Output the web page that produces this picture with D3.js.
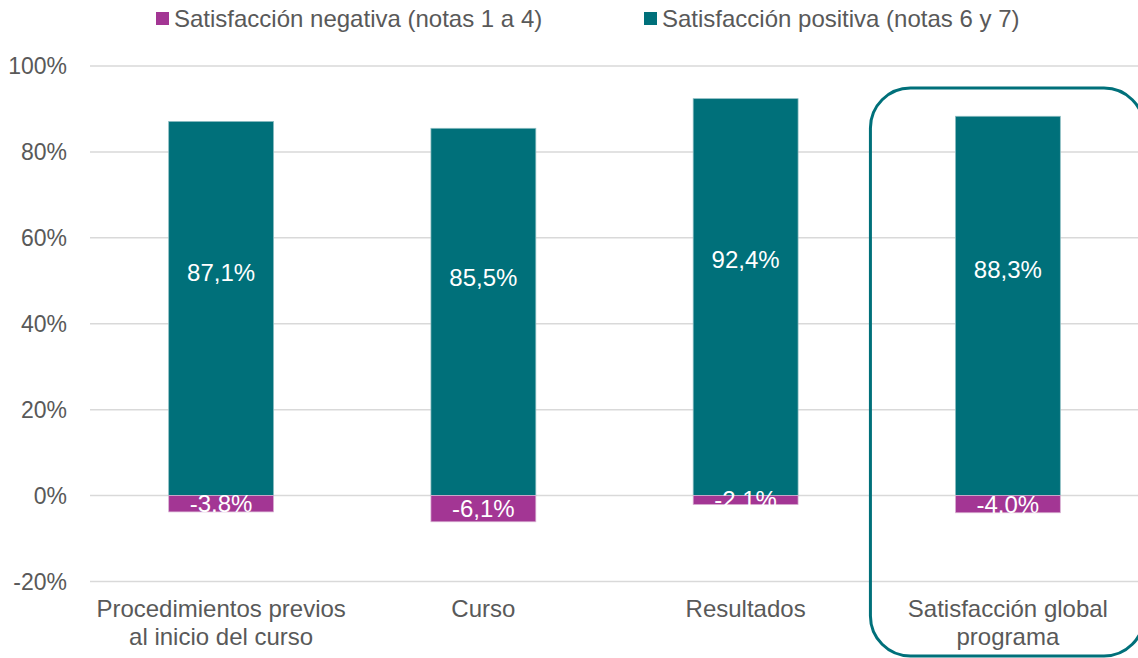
<!DOCTYPE html>
<html>
<head>
<meta charset="utf-8">
<script src="https://cdn.jsdelivr.net/npm/d3@7"></script>
<style>
  body { margin: 0; background: #fff; }
  text { font-family: "Liberation Sans", Arial, sans-serif; }
</style>
</head>
<body>
<div class="chart"></div>
<script>
// Chart data
var categories = [
  ["Procedimientos previos", "al inicio del curso"],
  ["Curso"],
  ["Resultados"],
  ["Satisfacción global", "programa"]
];
var positiveValues = [87.1, 85.5, 92.4, 88.3];
var negativeValues = [-3.8, -6.1, -2.1, -4.0];
var positiveLabels = ["87,1%", "85,5%", "92,4%", "88,3%"];
var negativeLabels = ["-3.8%", "-6,1%", "-2.1%", "-4.0%"];
var yTicks = [-20, 0, 20, 40, 60, 80, 100];
var seriesNames = ["Satisfacción negativa (notas 1 a 4)", "Satisfacción positiva (notas 6 y 7)"];
var highlightIndex = 3;

var svgWidth = 1138;
var svgHeight = 658;
var teal = "#00707A";
var magenta = "#A33694";
var grey = "#595959";
var fontSize = 24;

var svg = d3.select(".chart")
  .append("svg")
  .attr("width", svgWidth)
  .attr("height", svgHeight);

// Scales
var x = d3.scaleBand()
  .domain(d3.range(categories.length))
  .range([90, 1139])
  .paddingInner(0.6)
  .paddingOuter(0.3);

var y = d3.scaleLinear()
  .domain([-20, 100])
  .range([581.5, 66]);

// Gridlines
svg.append("g")
  .selectAll("line")
  .data(yTicks)
  .enter()
  .append("line")
  .attr("x1", 90)
  .attr("x2", svgWidth)
  .attr("y1", function(d) { return y(d); })
  .attr("y2", function(d) { return y(d); })
  .attr("stroke", "#D9D9D9")
  .attr("stroke-width", 1.5);

// Y axis labels
svg.append("g")
  .selectAll("text")
  .data(yTicks)
  .enter()
  .append("text")
  .attr("x", 67)
  .attr("y", function(d) { return y(d); })
  .attr("dy", "0.35em")
  .attr("text-anchor", "end")
  .attr("fill", grey)
  .style("font-size", "23px")
  .text(function(d) { return d + "%"; });

// Positive bars
svg.append("g")
  .selectAll("rect")
  .data(positiveValues)
  .enter()
  .append("rect")
  .attr("x", function(d, i) { return x(i); })
  .attr("width", x.bandwidth())
  .attr("y", function(d) { return y(d); })
  .attr("height", function(d) { return y(0) - y(d); })
  .attr("fill", teal)
  .attr("stroke", "#8FBFC4")
  .attr("stroke-width", 0.75);

// Negative bars
svg.append("g")
  .selectAll("rect")
  .data(negativeValues)
  .enter()
  .append("rect")
  .attr("x", function(d, i) { return x(i); })
  .attr("width", x.bandwidth())
  .attr("y", y(0))
  .attr("height", function(d) { return y(d) - y(0); })
  .attr("fill", magenta)
  .attr("stroke", "#D9B3D3")
  .attr("stroke-width", 0.75);

// Value labels (white, like the Excel original)
svg.append("g")
  .selectAll("text")
  .data(positiveValues)
  .enter()
  .append("text")
  .attr("x", function(d, i) { return x(i) + x.bandwidth() / 2; })
  .attr("y", function(d) { return y(d * 0.6) + 2; })
  .attr("dy", "0.35em")
  .attr("text-anchor", "middle")
  .attr("fill", "#fff")
  .style("font-size", fontSize + "px")
  .text(function(d, i) { return positiveLabels[i]; });

svg.append("g")
  .selectAll("text")
  .data(negativeValues)
  .enter()
  .append("text")
  .attr("x", function(d, i) { return x(i) + x.bandwidth() / 2; })
  .attr("y", function(d) { return y(d / 2); })
  .attr("dy", "0.35em")
  .attr("text-anchor", "middle")
  .attr("fill", "#fff")
  .style("font-size", fontSize + "px")
  .text(function(d, i) { return negativeLabels[i]; });

// Category labels
var catLabels = svg.append("g")
  .selectAll("text")
  .data(categories)
  .enter()
  .append("text")
  .attr("x", function(d, i) { return x(i) + x.bandwidth() / 2; })
  .attr("y", 617)
  .attr("text-anchor", "middle")
  .attr("fill", grey)
  .style("font-size", fontSize + "px");

catLabels.selectAll("tspan")
  .data(function(d) { return d; })
  .enter()
  .append("tspan")
  .attr("x", function() { return d3.select(this.parentNode).attr("x"); })
  .attr("dy", function(d, i) { return i === 0 ? 0 : 28; })
  .text(function(d) { return d; });

// Highlight box around the last category
var boxLeft = x(highlightIndex) - 85;
svg.append("rect")
  .attr("x", boxLeft)
  .attr("y", 88)
  .attr("width", 1144 - boxLeft)
  .attr("height", 568)
  .attr("rx", 40)
  .attr("ry", 40)
  .attr("fill", "none")
  .attr("stroke", teal)
  .attr("stroke-width", 3);

// Legend
var legendItems = [
  { name: seriesNames[0], color: magenta, x: 156 },
  { name: seriesNames[1], color: teal, x: 644 }
];

var legend = svg.append("g")
  .selectAll("g")
  .data(legendItems)
  .enter()
  .append("g")
  .attr("transform", function(d) { return "translate(" + d.x + ",0)"; });

legend.append("rect")
  .attr("x", 0)
  .attr("y", 12)
  .attr("width", 13)
  .attr("height", 13)
  .attr("fill", function(d) { return d.color; });

legend.append("text")
  .attr("x", 18)
  .attr("y", 27)
  .attr("fill", grey)
  .style("font-size", fontSize + "px")
  .text(function(d) { return d.name; });
</script>
</body>
</html>
